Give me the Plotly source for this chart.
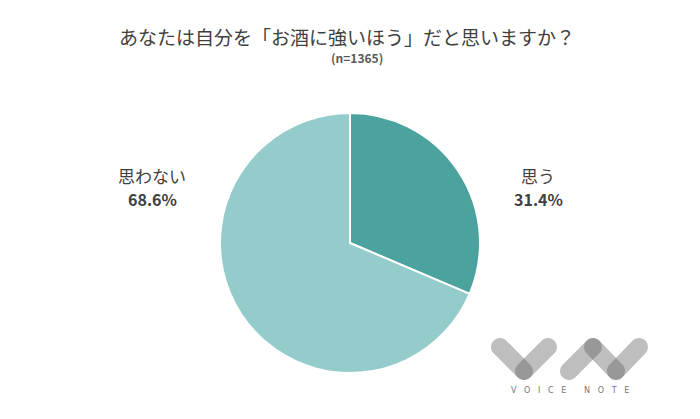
import plotly.graph_objects as go
import math

labels = ["思う", "思わない"]
values = [31.4, 68.6]
colors = ["#4BA29F", "#93CCCB"]
title_text = "あなたは自分を「お酒に強いほう」だと思いますか？"
subtitle_text = "(n=1365)"
# label positions in pixels (x, y)
label_pos = {"思う": (538, 175), "思わない": (152, 175)}

W, H = 700, 419
FONT = "Noto Sans CJK JP, Meiryo, sans-serif"

fig = go.Figure()

cx, cy, r = 350, 243, 130
fig.add_trace(go.Pie(
    labels=labels, values=values, sort=False, direction="clockwise", rotation=0,
    marker=dict(colors=colors, line=dict(color="white", width=2)),
    textinfo="none", hoverinfo="label+percent", showlegend=False,
    domain=dict(x=[(cx - r) / W, (cx + r) / W], y=[(H - cy - r) / H, (H - cy + r) / H]),
))

fig.add_trace(go.Scatter(x=[0, W], y=[0, H], mode="markers", marker=dict(opacity=0),
                         hoverinfo="skip", showlegend=False))

def capsule(p1, p2, rad):
    dx, dy = p2[0] - p1[0], p2[1] - p1[1]
    L = math.hypot(dx, dy)
    d = (dx / L, dy / L)
    n = (-d[1], d[0])
    k = 0.5523 * rad
    def pt(base, a, b):
        return (base[0] + a[0] + b[0], base[1] + a[1] + b[1])
    def sc(v, s):
        return (v[0] * s, v[1] * s)
    A = pt(p1, sc(n, rad), (0, 0))
    B = pt(p2, sc(n, rad), (0, 0))
    path = f"M{A[0]},{A[1]} L{B[0]},{B[1]} "
    c1 = pt(p2, sc(n, rad), sc(d, k)); c2 = pt(p2, sc(d, rad), sc(n, k)); e = pt(p2, sc(d, rad), (0, 0))
    path += f"C{c1[0]},{c1[1]} {c2[0]},{c2[1]} {e[0]},{e[1]} "
    c1 = pt(p2, sc(d, rad), sc(n, -k)); c2 = pt(p2, sc(n, -rad), sc(d, k)); e = pt(p2, sc(n, -rad), (0, 0))
    path += f"C{c1[0]},{c1[1]} {c2[0]},{c2[1]} {e[0]},{e[1]} "
    Cp = pt(p1, sc(n, -rad), (0, 0))
    path += f"L{Cp[0]},{Cp[1]} "
    c1 = pt(p1, sc(n, -rad), sc(d, -k)); c2 = pt(p1, sc(d, -rad), sc(n, -k)); e = pt(p1, sc(d, -rad), (0, 0))
    path += f"C{c1[0]},{c1[1]} {c2[0]},{c2[1]} {e[0]},{e[1]} "
    c1 = pt(p1, sc(d, -rad), sc(n, k)); c2 = pt(p1, sc(n, rad), sc(d, -k)); e = A
    path += f"C{c1[0]},{c1[1]} {c2[0]},{c2[1]} {e[0]},{e[1]} Z"
    return path

rad = 9
segs = [((500, 347), (524, 371)), ((524, 371), (548, 347)),
        ((569, 371), (593, 347)), ((593, 347), (616, 371)), ((616, 371), (639, 347))]
shapes = []
for p1, p2 in segs:
    shapes.append(dict(type="path", path=capsule(p1, p2, rad), xref="x", yref="y",
                       fillcolor="rgba(100,100,100,0.42)", line=dict(width=0), layer="above"))

annotations = [
    dict(text=title_text, x=347 / W, y=1 - 37 / H, xref="paper", yref="paper",
         showarrow=False, font=dict(size=19, color="#404040", family=FONT), xanchor="center", yanchor="middle"),
    dict(text=f"<b>{subtitle_text}</b>", x=357 / W, y=1 - 58 / H, xref="paper", yref="paper",
         showarrow=False, font=dict(size=12, color="#595959", family=FONT), xanchor="center", yanchor="middle"),
    dict(text="V   O   I   C   E       N   O   T   E", x=570 / W, y=1 - 390 / H, xref="paper", yref="paper",
         showarrow=False, font=dict(size=8, color="#777777", family="DejaVu Sans"), xanchor="center", yanchor="middle"),
]
for lab, v in zip(labels, values):
    x, y = label_pos[lab]
    annotations.append(dict(text=lab, x=x / W, y=1 - y / H, xref="paper", yref="paper", showarrow=False,
                            font=dict(size=17, color="#404040", family=FONT), xanchor="center", yanchor="middle"))
    annotations.append(dict(text=f"<b>{v:.1f}%</b>", x=x / W, y=1 - (y + 24) / H, xref="paper", yref="paper",
                            showarrow=False, font=dict(size=16, color="#404040", family=FONT),
                            xanchor="center", yanchor="middle"))

fig.update_layout(
    width=W, height=H, margin=dict(l=0, r=0, t=0, b=0),
    paper_bgcolor="white", plot_bgcolor="rgba(0,0,0,0)",
    xaxis=dict(range=[0, W], visible=False, domain=[0, 1], fixedrange=True),
    yaxis=dict(range=[H, 0], visible=False, domain=[0, 1], fixedrange=True),
    shapes=shapes, annotations=annotations,
)
fig.write_html("out.html")
